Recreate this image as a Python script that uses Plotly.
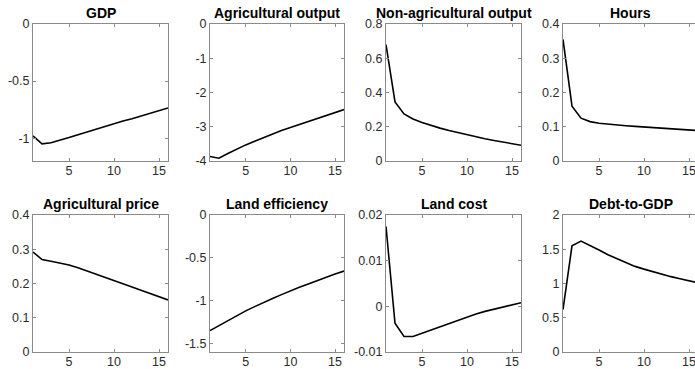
import plotly.graph_objects as go

periods = list(range(1, 17))

titles = ["GDP", "Agricultural output", "Non-agricultural output", "Hours",
          "Agricultural price", "Land efficiency", "Land cost", "Debt-to-GDP"]

gdp = [-0.98, -1.05, -1.04, -1.02, -0.995, -0.97, -0.945, -0.92, -0.895, -0.87,
       -0.85, -0.83, -0.805, -0.785, -0.76, -0.735]
ag_output = [-3.87, -3.92, -3.78, -3.65, -3.53, -3.42, -3.31, -3.21, -3.11, -3.02,
             -2.93, -2.84, -2.76, -2.67, -2.59, -2.50]
nonag_output = [0.68, 0.345, 0.275, 0.245, 0.225, 0.207, 0.192, 0.178, 0.165, 0.152,
                0.141, 0.130, 0.120, 0.110, 0.100, 0.092]
hours = [0.355, 0.160, 0.125, 0.115, 0.110, 0.107, 0.105, 0.103, 0.101, 0.099,
         0.098, 0.096, 0.095, 0.093, 0.091, 0.089]
ag_price = [0.292, 0.270, 0.265, 0.260, 0.254, 0.246, 0.237, 0.228, 0.219, 0.209,
            0.200, 0.190, 0.180, 0.170, 0.161, 0.152]
land_eff = [-1.35, -1.29, -1.23, -1.175, -1.12, -1.07, -1.02, -0.975, -0.93, -0.885,
            -0.845, -0.805, -0.765, -0.725, -0.69, -0.655]
land_cost = [0.0175, -0.0037, -0.0066, -0.0066, -0.0059, -0.0052, -0.0044, -0.0037,
             -0.0030, -0.0023, -0.0017, -0.0011, -0.0006, -0.0001, 0.0004, 0.0008]
debt_gdp = [0.62, 1.55, 1.62, 1.56, 1.49, 1.42, 1.36, 1.30, 1.25, 1.21,
            1.17, 1.13, 1.10, 1.07, 1.04, 1.01]

series = [gdp, ag_output, nonag_output, hours, ag_price, land_eff, land_cost, debt_gdp]

y_ranges = [[-1.2, 0], [-4, 0], [0, 0.8], [0, 0.4],
            [0, 0.4], [-1.6, 0], [-0.01, 0.02], [0, 2]]
y_ticks = [[-1, -0.5, 0], [-4, -3, -2, -1, 0], [0, 0.2, 0.4, 0.6, 0.8], [0, 0.1, 0.2, 0.3, 0.4],
           [0, 0.1, 0.2, 0.3, 0.4], [-1.5, -1, -0.5, 0], [-0.01, 0, 0.01, 0.02], [0, 0.5, 1, 1.5, 2]]
y_ticktext = [["-1", "-0.5", "0"], ["-4", "-3", "-2", "-1", "0"],
              ["0", "0.2", "0.4", "0.6", "0.8"], ["0", "0.1", "0.2", "0.3", "0.4"],
              ["0", "0.1", "0.2", "0.3", "0.4"], ["-1.5", "-1", "-0.5", "0"],
              ["-0.01", "0", "0.01", "0.02"], ["0", "0.5", "1", "1.5", "2"]]
x_ticks = [5, 10, 15]

W, H = 695, 369
col_px = [(33, 168), (210, 344), (386, 521), (563, 698)]
row_px = [(24, 161), (215, 352)]

AXC = "#8a8a8a"
TXC = "#2b2b2b"
FONT = "Liberation Sans, Arial, sans-serif"

fig = go.Figure()
layout = dict(width=W, height=H, margin=dict(l=0, r=0, t=0, b=0, autoexpand=False),
              template="none",
              paper_bgcolor="white", plot_bgcolor="white", showlegend=False,
              annotations=[])

for i in range(8):
    r, c = divmod(i, 4)
    x0, x1 = col_px[c]
    y0, y1 = row_px[r]
    clipped = x1 > W
    xr_end = 16
    if clipped:
        xr_end = 1 + 15 * (W - x0) / (x1 - x0)
        x1 = W
    n = i + 1
    xa = "xaxis" if n == 1 else f"xaxis{n}"
    ya = "yaxis" if n == 1 else f"yaxis{n}"
    fig.add_trace(go.Scatter(x=periods, y=series[i], mode="lines",
                             line=dict(color="black", width=1.6),
                             xaxis=f"x{n}" if n > 1 else "x",
                             yaxis=f"y{n}" if n > 1 else "y",
                             hoverinfo="skip"))
    layout[xa] = dict(domain=[x0 / W, x1 / W], range=[1, xr_end],
                      anchor=f"y{n}" if n > 1 else "y",
                      tickvals=x_ticks, ticktext=[str(v) for v in x_ticks],
                      showline=True, linecolor=AXC, linewidth=1, mirror="allticks",
                      ticks="inside", ticklen=3, tickcolor=AXC,
                      showgrid=False, zeroline=False, automargin=False,
                      ticklabeloverflow="allow", ticklabelstandoff=-2,
                      tickfont=dict(family=FONT, size=12.5, color=TXC))
    layout[ya] = dict(domain=[1 - y1 / H, 1 - y0 / H], range=y_ranges[i],
                      anchor=f"x{n}" if n > 1 else "x",
                      tickvals=y_ticks[i], ticktext=y_ticktext[i],
                      showline=True, linecolor=AXC, linewidth=1,
                      mirror=False if clipped else "allticks",
                      ticks="inside", ticklen=3, tickcolor=AXC,
                      showgrid=False, zeroline=False, automargin=False,
                      ticklabeloverflow="allow",
                      tickfont=dict(family=FONT, size=12.5, color=TXC))
    layout["annotations"].append(dict(
        text=f"<b>{titles[i]}</b>", xref="paper", yref="paper",
        x=(col_px[c][0] + col_px[c][1]) / 2 / W, y=1 - (y0 - 1) / H,
        xanchor="center", yanchor="bottom", showarrow=False,
        font=dict(family=FONT, size=14, color="black")))

fig.update_layout(**layout)
fig.write_html("out.html",
               config={"displayModeBar": False, "staticPlot": True},
               post_script="document.body.style.margin='0px';"
                           "document.body.style.overflow='hidden';")
